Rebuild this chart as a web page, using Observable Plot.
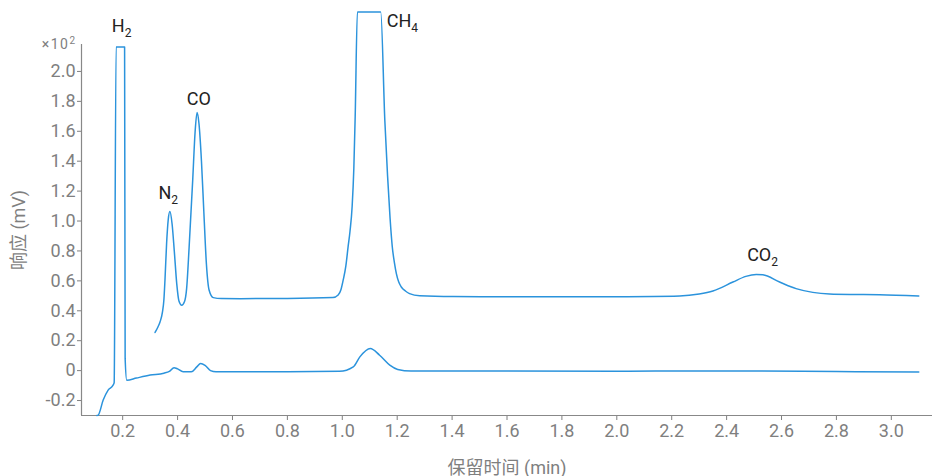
<!DOCTYPE html>
<html><head><meta charset="utf-8">
<script src="https://cdn.jsdelivr.net/npm/d3@7"></script>
<script src="https://cdn.jsdelivr.net/npm/@observablehq/plot@0.6"></script>
<style>body{margin:0;background:#fff}</style>
</head><body><div id="chart"></div>
<script>
// Lower trace (starts before H2)
const traceAx = [0.106, 0.111, 0.129, 0.147, 0.165, 0.169, 0.176, 0.207, 0.209, 0.215, 0.25, 0.30, 0.35, 0.37, 0.387, 0.40, 0.42, 0.45, 0.47, 0.484, 0.50, 0.52, 0.54, 0.60, 0.80, 0.99, 1.04, 1.064, 1.102, 1.136, 1.173, 1.202, 1.25, 1.5, 2.0, 2.27, 2.5, 2.8, 3.10];
const traceAy = [-0.30, -0.297, -0.197, -0.13, -0.097, -0.08, 2.163, 2.163, 0.08, -0.065, -0.05, -0.03, -0.017, -0.005, 0.02, 0.012, -0.008, -0.008, 0.025, 0.048, 0.035, 0.0, -0.008, -0.008, -0.008, -0.005, 0.025, 0.092, 0.148, 0.103, 0.037, 0.008, -0.003, -0.003, -0.004, -0.002, -0.003, -0.006, -0.01];
// Upper trace (N2, CO, CH4, CO2)
const traceBx = [0.318, 0.328, 0.336, 0.345, 0.35, 0.354, 0.36, 0.366, 0.372, 0.38, 0.388, 0.397, 0.405, 0.415, 0.425, 0.433, 0.442, 0.455, 0.464, 0.471, 0.478, 0.487, 0.496, 0.505, 0.515, 0.53, 0.56, 0.63, 0.80, 0.966, 0.985, 0.995, 1.003, 1.013, 1.021, 1.028, 1.036, 1.042, 1.047, 1.055, 1.14, 1.155, 1.165, 1.174, 1.182, 1.19, 1.197, 1.205, 1.215, 1.23, 1.245, 1.282, 1.403, 1.6, 1.8, 2.0, 2.229, 2.30, 2.35, 2.423, 2.47, 2.508, 2.532, 2.593, 2.653, 2.714, 2.775, 2.85, 2.957, 3.10];
const traceBy = [0.255, 0.29, 0.325, 0.392, 0.47, 0.603, 0.85, 1.01, 1.063, 0.98, 0.80, 0.58, 0.465, 0.437, 0.46, 0.55, 0.823, 1.27, 1.6, 1.725, 1.65, 1.40, 1.047, 0.713, 0.537, 0.488, 0.482, 0.481, 0.482, 0.488, 0.505, 0.54, 0.603, 0.70, 0.825, 0.93, 1.10, 1.35, 1.70, 2.397, 2.397, 1.67, 1.30, 1.02, 0.83, 0.72, 0.648, 0.595, 0.559, 0.532, 0.515, 0.50, 0.495, 0.494, 0.493, 0.494, 0.499, 0.512, 0.532, 0.592, 0.63, 0.643, 0.641, 0.592, 0.548, 0.523, 0.512, 0.509, 0.508, 0.499];

const labelMain = ["H", "N", "CO", "CH", "CO"];
const labelSub = ["2", "2", "", "4", "2"];
const labelX = [0.196, 0.366, 0.477, 1.219, 2.531];
const labelY = [2.303, 1.183, 1.815, 2.335, 0.773];

const xTicks = [0.2, 0.4, 0.6, 0.8, 1.0, 1.2, 1.4, 1.6, 1.8, 2.0, 2.2, 2.4, 2.6, 2.8, 3.0];
const yTicks = [-0.2, 0, 0.2, 0.4, 0.6, 0.8, 1.0, 1.2, 1.4, 1.6, 1.8, 2.0];
const xDomain = [0.05, 3.15];
const yDomain = [-0.3, 2.18];
const xTitle = "保留时间 (min)";
const yTitle = "响应 (mV)";
const unitText = "×10";
const unitExp = "2";

const lineA = traceAx.map((x, i) => ({x, y: traceAy[i]}));
const lineB = traceBx.map((x, i) => ({x, y: traceBy[i]}));
const labels = labelMain.map((t, i) => ({t, x: labelX[i], y: labelY[i]}));

const blue = "#2b93dc";
const svg = Plot.plot({
  width: 932,
  height: 476,
  marginLeft: 81,
  marginRight: 0,
  marginTop: 44,
  marginBottom: 61,
  style: {fontFamily: "Roboto, 'Noto Sans CJK SC', sans-serif", fontSize: "18px", color: "#7f7f7f", background: "#fff"},
  x: {domain: xDomain, ticks: xTicks, tickFormat: d => d.toFixed(1), label: xTitle, labelAnchor: "center", labelOffset: 58, labelArrow: false, tickSize: 5, tickPadding: 4},
  y: {domain: yDomain, ticks: yTicks, tickFormat: d => d === 0 ? "0" : d.toFixed(1), label: yTitle, labelAnchor: "center", labelOffset: 69, labelArrow: false, tickSize: 4, tickPadding: 2},
  marks: [
    Plot.ruleX([xDomain[0]], {stroke: "#888", strokeWidth: 1.2}),
    Plot.ruleY([yDomain[0]], {stroke: "#888", strokeWidth: 1.2}),
    Plot.line(lineA, {x: "x", y: "y", stroke: blue, strokeWidth: 1.5, curve: "monotone-x"}),
    Plot.line(lineB, {x: "x", y: "y", stroke: blue, strokeWidth: 1.5, curve: "monotone-x"}),
    Plot.text(labels, {x: "x", y: "y", text: "t", fill: "#222", fontSize: 18, ariaDescription: "peaklabels"}),
    Plot.text([unitText], {text: d => d, frameAnchor: "top-left", textAnchor: "end", lineAnchor: "middle", dx: -5, dy: 0, fontSize: 14, fill: "#7f7f7f", ariaDescription: "unitlabel"})
  ]
});
d3.select(svg).selectAll('g[aria-description="peaklabels"] text').each(function(d, i) {
  const sub = labelSub[i];
  if (sub) d3.select(this).append("tspan").attr("font-size", 12).attr("dy", 5).text(sub);
});
d3.select(svg).selectAll('g[aria-description="unitlabel"] text').each(function() {
  d3.select(this).attr("letter-spacing", "1.5px");
  d3.select(this).append("tspan").attr("font-size", 10).attr("dy", -5).text(unitExp);
});
document.getElementById("chart").appendChild(svg);
</script></body></html>
